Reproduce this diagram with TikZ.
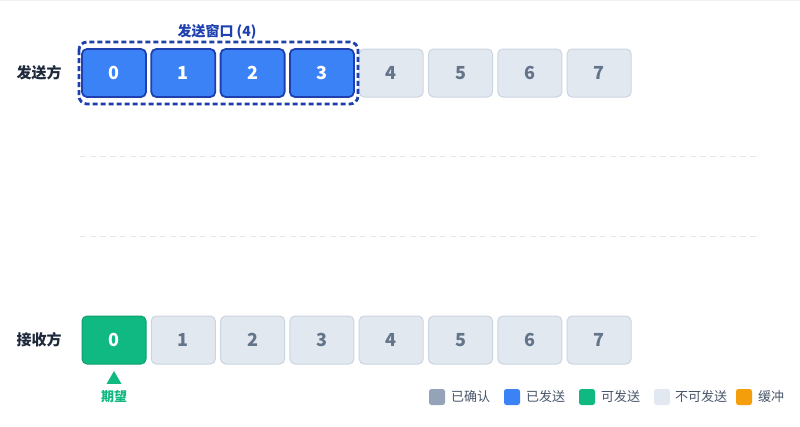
\documentclass[tikz,border=0pt]{standalone}
\usepackage{fontspec}
\setmainfont{Noto Sans CJK SC}
\usetikzlibrary{shapes.geometric}
\definecolor{sentfill}{HTML}{3B82F6}
\definecolor{winblue}{HTML}{1E40AF}
\definecolor{grayfill}{HTML}{E2E8F0}
\definecolor{graydraw}{HTML}{CBD5E1}
\definecolor{graytext}{HTML}{64748B}
\definecolor{greenfill}{HTML}{10B981}
\definecolor{greendraw}{HTML}{0E9F6E}
\definecolor{acked}{HTML}{94A3B8}
\definecolor{buffer}{HTML}{F59E0B}
\definecolor{labeltext}{HTML}{1E293B}
\definecolor{legtext}{HTML}{475569}
\definecolor{sepline}{HTML}{E5E7EB}
\tikzset{
  seqbox/.style={rectangle, rounded corners=5pt, minimum width=64pt, minimum height=48pt,
    inner sep=0pt, font=\fontsize{18}{18}\selectfont\bfseries, line width=1pt},
  sentbox/.style={seqbox, fill=sentfill, draw=winblue, line width=1.8pt, text=white},
  idlebox/.style={seqbox, fill=grayfill, draw=graydraw, text=graytext},
  expbox/.style={seqbox, fill=greenfill, draw=greendraw, text=white},
  rowlabel/.style={font=\fontsize{15}{15}\selectfont\bfseries, text=labeltext},
  legsq/.style={rectangle, rounded corners=2.5pt, minimum size=16pt, inner sep=0pt},
  legtxt/.style={anchor=west, font=\fontsize{13}{13}\selectfont, text=legtext, inner sep=0pt},
  sepstyle/.style={draw=sepline, dash pattern=on 6pt off 4pt, line width=0.8pt}
}
\begin{document}
\begin{tikzpicture}[x=1pt,y=-1pt]
\useasboundingbox (0,0) rectangle (800,426);
\fill[white] (0,0) rectangle (800,426);
\draw[draw=sepline!60, line width=1pt] (0,0.5) -- (800,0.5);
% row labels
\node[rowlabel] (snd) at (39,73) {发送方};
\node[rowlabel] (rcv) at (39,340) {接收方};
% sender row
\foreach \i in {0,...,3} {
  \node[sentbox] (s\i) at ({114+69.3*\i},73) {\i};
}
\foreach \i in {4,...,7} {
  \node[idlebox] (s\i) at ({114+69.3*\i},73) {\i};
}
% window
\draw[winblue, line width=2.8pt, dash pattern=on 5pt off 3pt, rounded corners=8pt]
  (79,42) rectangle (358,104);
\node[font=\fontsize{14}{14}\selectfont\bfseries, text=winblue] (win) at (217,32) {发送窗口 (4)};
% separators
\coordinate (l1a) at (80,156); \coordinate (l1b) at (760,156);
\coordinate (l2a) at (80,236); \coordinate (l2b) at (760,236);
\draw[sepstyle] (l1a) -- (l1b);
\draw[sepstyle] (l2a) -- (l2b);
% receiver row
\node[expbox] (r0) at (114,340) {0};
\foreach \i in {1,...,7} {
  \node[idlebox] (r\i) at ({114+69.3*\i},340) {\i};
}
% expected marker
\node[regular polygon, regular polygon sides=3, fill=greenfill, inner sep=0pt,
  minimum size=17pt] (tri) at (114,379.5) {};
\node[font=\fontsize{13}{13}\selectfont\bfseries, text=greenfill] (exp) at (114,397) {期望};
% legend
\node[legsq, fill=acked] (k1) at (437,397) {};
\node[legtxt] (t1) at (451,397) {已确认};
\node[legsq, fill=sentfill] (k2) at (512,397) {};
\node[legtxt] (t2) at (526,397) {已发送};
\node[legsq, fill=greenfill] (k3) at (587,397) {};
\node[legtxt] (t3) at (601,397) {可发送};
\node[legsq, fill=grayfill] (k4) at (662,397) {};
\node[legtxt] (t4) at (675,397) {不可发送};
\node[legsq, fill=buffer] (k5) at (744,397) {};
\node[legtxt] (t5) at (758,397) {缓冲};
\end{tikzpicture}
\end{document}
